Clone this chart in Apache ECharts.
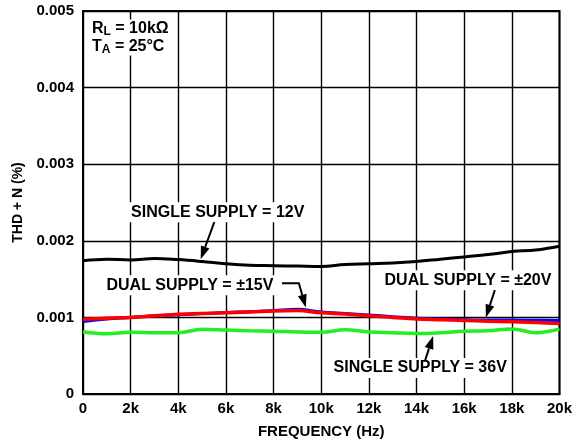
<!DOCTYPE html>
<html>
<head>
<meta charset="utf-8">
<script src="https://cdn.jsdelivr.net/npm/echarts@6/dist/echarts.min.js"></script>
<style>
html,body{margin:0;padding:0;background:#fff;}
#c{width:575px;height:448px;}
</style>
</head>
<body>
<div id="c"></div>
<script>
// ---- data ----
var freq = [0,1000,2000,3000,4000,5000,6000,7000,8000,9000,10000,11000,12000,13000,14000,15000,16000,17000,18000,19000,20000];
var single12 = [0.00174,0.00176,0.00175,0.00177,0.001755,0.00173,0.00170,0.00168,0.001675,0.00167,0.001665,0.00169,0.00170,0.00171,0.00173,0.00176,0.00179,0.00182,0.00186,0.00188,0.00193];
var dual15 = [0.000945,0.00098,0.00100,0.00102,0.001035,0.00105,0.001065,0.001075,0.00109,0.001105,0.00107,0.00105,0.00103,0.00101,0.00099,0.00098,0.00097,0.000965,0.000965,0.000962,0.00096];
var dual20 = [0.000975,0.00099,0.00100,0.00102,0.00104,0.00105,0.00106,0.00107,0.001085,0.00109,0.00106,0.001045,0.00102,0.00100,0.00098,0.00097,0.00096,0.00095,0.000943,0.000935,0.00092];
var single36 = [0.000812,0.000785,0.000805,0.00080,0.00080,0.000845,0.000834,0.000825,0.00082,0.00081,0.000805,0.00084,0.00081,0.00080,0.00079,0.00080,0.00082,0.000825,0.00085,0.00080,0.00085];
var xTicks = {min:0, max:20000, interval:2000};
var yTicks = {min:0, max:0.005, interval:0.001};
// annotations: [text, x, y] in data units; arrows: list of points, last point is the tip
var labels = [
  ['SINGLE SUPPLY = 12V', 5656, 0.002373],
  ['DUAL SUPPLY = \u00b115V', 4489, 0.001421],
  ['DUAL SUPPLY = \u00b120V', 16159, 0.001486],
  ['SINGLE SUPPLY = 36V', 14154, 0.000339]
];
var arrows = [
  [[5511, 0.002243],[4940, 0.00176]],
  [[8351, 0.001447],[9061, 0.001447],[9353, 0.00113]],
  [[17286, 0.001356],[16910, 0.00100]],
  [[14363, 0.000443],[14697, 0.000756]]
];

function zip(xs, ys){ return xs.map(function(x,i){ return [x, ys[i]]; }); }

var FONT = '"Liberation Sans", Arial, sans-serif';
var chart = echarts.init(document.getElementById('c'));
chart.setOption({
  animation:false,
  backgroundColor:'#fff',
  grid:{left:83,right:13,top:11,bottom:54,show:true,borderColor:'#000',borderWidth:2,backgroundColor:'transparent'},
  xAxis:{
    type:'value', min:xTicks.min, max:xTicks.max, interval:xTicks.interval,
    name:'FREQUENCY (Hz)', nameLocation:'middle', nameGap:30,
    nameTextStyle:{fontFamily:FONT,fontWeight:'bold',fontSize:15,color:'#000'},
    axisLine:{show:true,lineStyle:{color:'#000',width:2}},
    axisTick:{show:false},
    axisLabel:{fontFamily:FONT,fontWeight:'bold',fontSize:15,color:'#000',margin:7,
      formatter:function(v){return v===0?'0':(v/1000)+'k';}},
    splitLine:{show:true,lineStyle:{color:'#000',width:1.4}}
  },
  yAxis:{
    type:'value', min:yTicks.min, max:yTicks.max, interval:yTicks.interval,
    name:'THD + N (%)', nameLocation:'middle', nameGap:58, nameRotate:90,
    nameTextStyle:{fontFamily:FONT,fontWeight:'bold',fontSize:14,color:'#000'},
    axisLine:{show:true,lineStyle:{color:'#000',width:2}},
    axisTick:{show:false},
    axisLabel:{fontFamily:FONT,fontWeight:'bold',fontSize:15,color:'#000',margin:9,
      formatter:function(v){return v===0?'0':v.toFixed(3);}},
    splitLine:{show:true,lineStyle:{color:'#000',width:1.4}}
  },
  series:[
    {type:'line',name:'single12',data:zip(freq,single12),smooth:0.4,symbol:'none',lineStyle:{color:'#000',width:3}},
    {type:'line',name:'dual15',data:zip(freq,dual15),smooth:0.4,symbol:'none',lineStyle:{color:'#0000ff',width:3}},
    {type:'line',name:'dual20',data:zip(freq,dual20),smooth:0.4,symbol:'none',lineStyle:{color:'#ff0000',width:3.5}},
    {type:'line',name:'single36',data:zip(freq,single36),smooth:0.4,symbol:'none',lineStyle:{color:'#22ee22',width:3.5}}
  ]
});

function px(p){ return chart.convertToPixel({gridIndex:0}, p); }
var g = [];
labels.forEach(function(l){
  var p = px([l[1], l[2]]);
  g.push({type:'text', x:p[0], y:p[1], z:100,
    style:{text:l[0], fill:'#000', font:'bold 16px '+FONT, align:'center', verticalAlign:'middle',
      backgroundColor:'#fff', padding:[2,3,2,3]}});
});
arrows.forEach(function(a){
  var pts = a.map(px);
  var n = pts.length;
  var tip = pts[n-1], prev = pts[n-2];
  var dx = tip[0]-prev[0], dy = tip[1]-prev[1];
  var len = Math.sqrt(dx*dx+dy*dy); dx/=len; dy/=len;
  var hl = 13, hw = 4.5;
  var base = [tip[0]-dx*hl, tip[1]-dy*hl];
  var linePts = pts.slice(0, n-1).concat([base]);
  g.push({type:'polyline', z:101, shape:{points:linePts}, style:{stroke:'#000', lineWidth:2, fill:null}});
  g.push({type:'polygon', z:101, shape:{points:[tip,[base[0]-dy*hw, base[1]+dx*hw],[base[0]+dy*hw, base[1]-dx*hw]]},
    style:{fill:'#000'}});
});
g.push({type:'text', left:92, top:19, z:100,
  style:{text:'{b|R}{s|L}{b| = 10k\u03a9}\n{b|T}{s|A}{b| = 25\u00b0C}', fill:'#000',
    rich:{b:{font:'bold 16px '+FONT, lineHeight:18, fill:'#000'},
          s:{font:'bold 12px '+FONT, padding:[7,0,0,0], lineHeight:18, fill:'#000'}},
    backgroundColor:'#fff'}});
chart.setOption({graphic:g});
</script>
</body>
</html>
